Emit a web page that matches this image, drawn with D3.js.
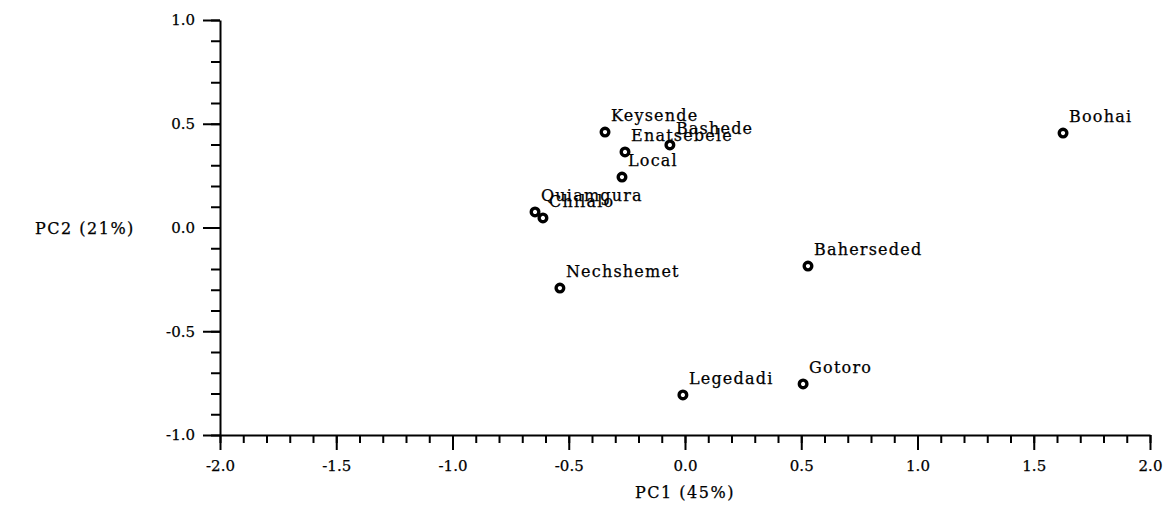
<!DOCTYPE html>
<html>
<head>
<meta charset="utf-8">
<script src="https://cdn.jsdelivr.net/npm/d3@7"></script>
<style>
  body { margin: 0; background: #fff; overflow: hidden; }
  svg { display: block; }
  text { font-family: "DejaVu Serif", "Liberation Serif", serif; fill: #000; stroke: #000; stroke-width: 0.25px; }
</style>
</head>
<body>
<svg width="1166" height="505"></svg>
<script>
const svg = d3.select("svg");

// data
const names = ["Keysende", "Enatsebele", "Bashede", "Local", "Quiamgura", "Chilalo",
    "Nechshemet", "Legedadi", "Gotoro", "Baherseded", "Boohai"];
const pc1 = [-0.344, -0.258, -0.065, -0.271, -0.645, -0.611, -0.538, -0.009, 0.508, 0.529, 1.626];
const pc2 = [0.460, 0.364, 0.398, 0.243, 0.075, 0.046, -0.292, -0.807, -0.754, -0.186, 0.455];
const xTicks = [-2.0, -1.5, -1.0, -0.5, 0.0, 0.5, 1.0, 1.5, 2.0];
const yTicks = [-1.0, -0.5, 0.0, 0.5, 1.0];
const xTitle = "PC1 (45%)";
const yTitle = "PC2 (21%)";

const data = names.map((n, i) => ({ name: n, x: pc1[i], y: pc2[i] }));

const margin = { top: 20, left: 220, right: 16, bottom: 70 };
const width = 1166, height = 505;
const innerWidth = width - margin.left - margin.right;
const innerHeight = height - margin.top - margin.bottom;

const xScale = d3.scaleLinear().domain([-2, 2]).range([0, innerWidth]);
const yScale = d3.scaleLinear().domain([-1, 1]).range([innerHeight, 0]);

const g = svg.append("g")
    .attr("transform", `translate(${margin.left}, ${margin.top})`);

// hyphen instead of unicode minus, like the original
const fmt = d => d3.format(".1f")(d).replace("−", "-");

// minor ticks (no labels)
const minorX = d3.range(-20, 21).map(d => d / 10);
const minorY = d3.range(-10, 11).map(d => d / 10);

g.append("g")
    .attr("transform", `translate(0, ${innerHeight})`)
    .call(d3.axisBottom(xScale).tickValues(minorX).tickSize(8).tickSizeOuter(0).tickFormat(""))
    .call(a => a.select(".domain").remove())
    .call(a => a.selectAll("text").remove());
g.append("g")
    .call(d3.axisLeft(yScale).tickValues(minorY).tickSize(9).tickSizeOuter(0).tickFormat(""))
    .call(a => a.select(".domain").remove())
    .call(a => a.selectAll("text").remove());

// major ticks with labels
g.append("g")
    .attr("transform", `translate(0, ${innerHeight})`)
    .call(d3.axisBottom(xScale).tickValues(xTicks).tickSize(15).tickSizeOuter(0).tickFormat(fmt).tickPadding(10));
g.append("g")
    .call(d3.axisLeft(yScale).tickValues(yTicks).tickSize(17).tickSizeOuter(0).tickFormat(fmt).tickPadding(8));

g.selectAll(".tick line").attr("stroke", "#000").attr("stroke-width", 2);
g.selectAll(".domain").attr("stroke", "#000").attr("stroke-width", 2);
g.selectAll(".tick text")
    .attr("font-family", "DejaVu Serif")
    .attr("font-size", 15)
    .attr("fill", "#000");

// axis titles
svg.append("text")
    .attr("x", margin.left + xScale(0))
    .attr("y", 498)
    .attr("text-anchor", "middle")
    .attr("font-size", 16)
    .attr("letter-spacing", 1.5)
    .text(xTitle);
svg.append("text")
    .attr("x", 35)
    .attr("y", margin.top + yScale(0) + 6)
    .attr("font-size", 16)
    .attr("letter-spacing", 1.5)
    .text(yTitle);

// points
const pts = g.selectAll("g.pt").data(data).enter().append("g")
    .attr("class", "pt")
    .attr("transform", d => `translate(${xScale(d.x)}, ${yScale(d.y)})`);

pts.append("circle")
    .attr("r", 3.8)
    .attr("fill", "#fff")
    .attr("stroke", "#000")
    .attr("stroke-width", 3.4);

pts.append("text")
    .attr("x", 6)
    .attr("y", -11)
    .attr("font-size", 16)
    .attr("letter-spacing", 1.2)
    .text(d => d.name);
</script>
</body>
</html>
